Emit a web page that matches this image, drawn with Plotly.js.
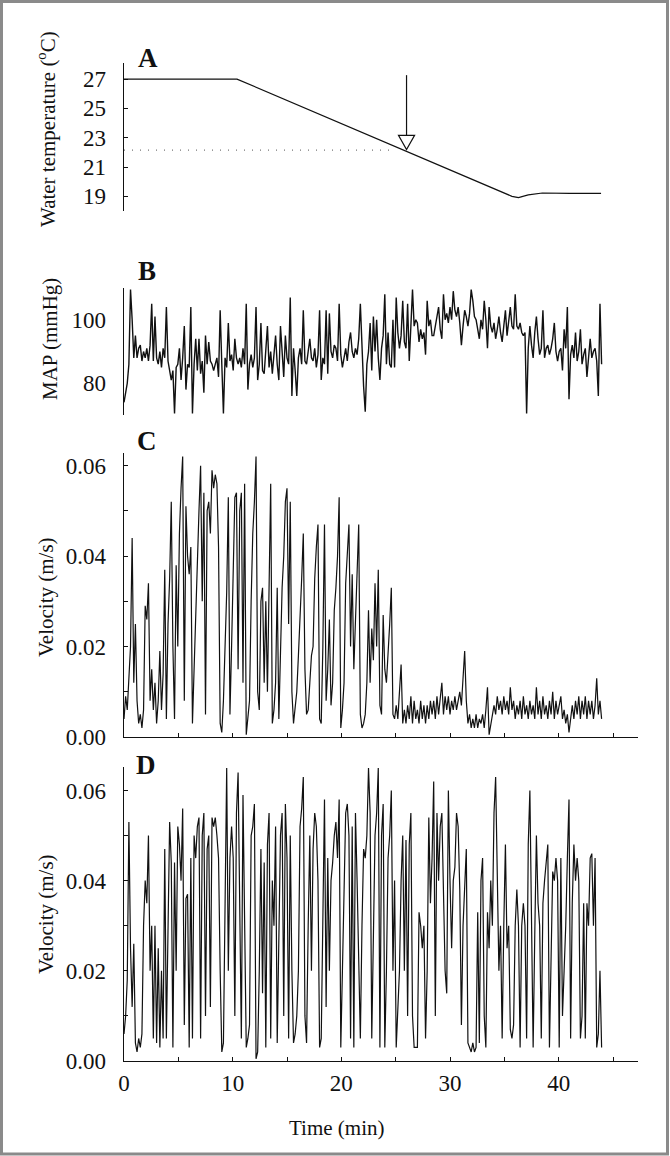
<!DOCTYPE html>
<html>
<head>
<meta charset="utf-8">
<script src="https://cdn.plot.ly/plotly-3.0.1.min.js"></script>
<style>
  html, body { margin: 0; padding: 0; background: #fff; }
  #chart { width: 670px; height: 1156px; }
</style>
</head>
<body>
<div id="chart"></div>
<script>
const sampleStep = 0.15;

// A: water temperature (deg C)
const tempTime = [0, 10.4, 35.7, 36.3, 37.2, 38.5, 41.0, 43.9];
const tempValue = [27, 27, 19.0, 18.92, 19.1, 19.23, 19.2, 19.2];
const refTemp = 22.15, refEndTime = 24.7;
const arrowTime = 26, arrowTip = 22.2, arrowTop = 27.27;

// B: mean arterial pressure (mmHg)
const mapValues = [
  74, 77, 80, 86, 109.5, 100, 88, 95, 88, 91,
  92, 87, 90, 88, 91, 87, 92, 105, 87, 101,
  88, 86, 90, 85, 91, 88, 104, 87, 84, 81,
  84, 70.5, 85, 86, 91, 81, 88, 98, 78, 86,
  85, 104, 70.5, 86, 94, 84, 94, 83, 87, 77,
  95, 86, 93, 87, 86, 84, 86, 88, 82, 103,
  86, 70.5, 88, 85, 99, 87, 89, 84, 94, 88,
  86, 88, 85, 91, 86, 105, 78, 86, 89, 85,
  88, 104, 81, 86, 99, 84, 83, 90, 98, 85,
  90, 83, 88, 95, 86, 81, 98, 89, 82, 95,
  88, 86, 107, 76, 91, 84, 76, 88, 91, 86,
  103, 87, 86, 90, 94, 88, 87, 91, 85, 89,
  103, 81, 88, 86, 103, 83, 102, 90, 88, 92,
  91, 87, 105, 89, 85, 88, 91, 87, 93, 96,
  90, 88, 91, 89, 94, 105, 90, 79, 71, 86,
  90, 99, 84, 101, 90, 100, 88, 81, 91, 95,
  108, 86, 96, 86, 85, 100, 85, 107, 96, 91,
  95, 106, 93, 91, 105, 87, 98, 109.5, 98, 100,
  99, 93, 97, 94, 96, 89, 106, 98, 100, 95,
  95, 98, 101, 104, 97, 94, 108, 100, 102, 99,
  104, 100, 109, 103, 101, 104, 99, 92, 98, 103,
  101, 98, 102, 109.5, 106, 101, 100, 97, 94, 100,
  97, 106, 100, 91, 104, 98, 96, 99, 94, 97,
  101, 96, 93, 98, 103, 95, 99, 104, 98, 97,
  108, 98, 97, 99, 96, 95, 96, 70.5, 91, 98,
  92, 88, 96, 101, 94, 89, 91, 103, 88, 91,
  92, 89, 91, 94, 99, 90, 87, 90, 91, 84,
  97, 91, 104, 75, 89, 92, 88, 96, 87, 90,
  97, 86, 89, 91, 82, 88, 94, 88, 90, 91,
  87, 76, 105, 86
];

// C: velocity (m/s)
const velocityC = [
  0.004, 0.009, 0.006, 0.012, 0.02, 0.044, 0.012, 0.025, 0.008, 0.003,
  0.005, 0.002, 0.006, 0.029, 0.026, 0.034, 0.008, 0.015, 0.006, 0.012,
  0.003, 0.008, 0.019, 0.006, 0.014, 0.037, 0.004, 0.025, 0.035, 0.052,
  0.02, 0.004, 0.038, 0.02, 0.045, 0.055, 0.062, 0.008, 0.051, 0.04,
  0.036, 0.042, 0.003, 0.015, 0.028, 0.038, 0.05, 0.06, 0.03, 0.054,
  0.005, 0.05, 0.052, 0.045, 0.059, 0.055, 0.058, 0.056, 0.042, 0.003,
  0.001, 0.008, 0.02, 0.032, 0.053, 0.005, 0.02, 0.035, 0.053, 0.054,
  0.015, 0.05, 0.054, 0.012, 0.056, 0.0005, 0.004, 0.008, 0.03, 0.045,
  0.052, 0.062, 0.01, 0.006, 0.03, 0.033, 0.012, 0.03, 0.01, 0.033,
  0.056, 0.003, 0.006, 0.012, 0.033, 0.004, 0.02, 0.033, 0.04, 0.052,
  0.055, 0.025, 0.052, 0.01, 0.003, 0.006, 0.01, 0.018, 0.025, 0.035,
  0.045, 0.015, 0.005, 0.006, 0.012, 0.018, 0.02, 0.035, 0.042, 0.047,
  0.004, 0.003, 0.02, 0.047, 0.008, 0.015, 0.026, 0.007, 0.012, 0.028,
  0.033, 0.04, 0.053, 0.002, 0.006, 0.012, 0.034, 0.04, 0.047, 0.02,
  0.036, 0.015, 0.025, 0.035, 0.047, 0.005, 0.002, 0.003, 0.005, 0.012,
  0.028, 0.012, 0.024, 0.017, 0.034, 0.02, 0.037, 0.007, 0.005, 0.027,
  0.015, 0.012, 0.018, 0.025, 0.033, 0.005, 0.004, 0.007, 0.004, 0.009,
  0.016, 0.003, 0.006, 0.003, 0.007, 0.004, 0.009, 0.003, 0.008, 0.004,
  0.006, 0.003, 0.008, 0.004, 0.007, 0.003, 0.007, 0.004, 0.008, 0.005,
  0.008, 0.004, 0.009, 0.005, 0.008, 0.012, 0.005, 0.009, 0.006, 0.009,
  0.005, 0.008, 0.006, 0.009, 0.006, 0.008, 0.01, 0.007, 0.012, 0.019,
  0.008, 0.003, 0.005, 0.002, 0.004, 0.002, 0.005, 0.002, 0.004, 0.003,
  0.005, 0.002, 0.006, 0.011, 0.0005, 0.003, 0.005, 0.007, 0.005, 0.009,
  0.006, 0.008, 0.005, 0.009, 0.006, 0.008, 0.005, 0.011, 0.006, 0.008,
  0.004, 0.007, 0.005, 0.008, 0.004, 0.009, 0.005, 0.007, 0.004, 0.008,
  0.005, 0.007, 0.004, 0.011, 0.005, 0.008, 0.004, 0.009, 0.005, 0.007,
  0.004, 0.008, 0.005, 0.01, 0.004, 0.008, 0.005, 0.007, 0.009, 0.004,
  0.006, 0.003, 0.005, 0.001, 0.004, 0.007, 0.004, 0.008, 0.005, 0.009,
  0.004, 0.008, 0.005, 0.009, 0.004, 0.008, 0.005, 0.008, 0.004, 0.007,
  0.013, 0.005, 0.008, 0.004
];

// D: velocity (m/s)
const velocityD = [
  0.006, 0.01, 0.018, 0.053, 0.025, 0.012, 0.026, 0.004, 0.002, 0.005,
  0.003, 0.006, 0.03, 0.04, 0.035, 0.05, 0.02, 0.03, 0.005, 0.03,
  0.004, 0.025, 0.003, 0.02, 0.005, 0.047, 0.005, 0.03, 0.053, 0.044,
  0.003, 0.044, 0.02, 0.052, 0.048, 0.04, 0.056, 0.008, 0.036, 0.037,
  0.003, 0.045, 0.005, 0.05, 0.045, 0.052, 0.054, 0.005, 0.05, 0.055,
  0.01, 0.047, 0.05, 0.012, 0.054, 0.052, 0.054, 0.05, 0.045, 0.02,
  0.002, 0.004, 0.03, 0.065, 0.02, 0.045, 0.052, 0.045, 0.01, 0.055,
  0.064, 0.04, 0.005, 0.059, 0.035, 0.003, 0.005, 0.008, 0.05, 0.052,
  0.057, 0.0005, 0.002, 0.02, 0.047, 0.015, 0.044, 0.003, 0.048, 0.055,
  0.005, 0.04, 0.03, 0.052, 0.004, 0.03, 0.05, 0.055, 0.01, 0.057,
  0.045, 0.005, 0.05, 0.02, 0.004, 0.006, 0.01, 0.02, 0.052, 0.056,
  0.063, 0.01, 0.004, 0.03, 0.05, 0.02, 0.047, 0.055, 0.052, 0.04,
  0.003, 0.005, 0.03, 0.058, 0.012, 0.045, 0.02, 0.04, 0.044, 0.05,
  0.053, 0.045, 0.058, 0.003, 0.02, 0.035, 0.055, 0.057, 0.05, 0.005,
  0.052, 0.003, 0.055, 0.04, 0.02, 0.005, 0.03, 0.047, 0.045, 0.05,
  0.065, 0.055, 0.005, 0.03, 0.05, 0.055, 0.065, 0.003, 0.05, 0.057,
  0.003, 0.02, 0.045, 0.05, 0.06, 0.02, 0.04, 0.003, 0.01, 0.02,
  0.04, 0.05, 0.02, 0.049, 0.01, 0.048, 0.055, 0.01, 0.003, 0.003,
  0.003, 0.033, 0.03, 0.025, 0.03, 0.005, 0.02, 0.054, 0.035, 0.045,
  0.062, 0.01, 0.055, 0.04, 0.052, 0.055, 0.04, 0.02, 0.015, 0.06,
  0.04, 0.025, 0.04, 0.043, 0.055, 0.052, 0.038, 0.008, 0.03, 0.04,
  0.047, 0.004, 0.003, 0.002, 0.004, 0.002, 0.003, 0.033, 0.004, 0.04,
  0.045, 0.01, 0.003, 0.033, 0.025, 0.04, 0.03, 0.055, 0.063, 0.04,
  0.02, 0.03, 0.005, 0.03, 0.048, 0.025, 0.03, 0.007, 0.005, 0.008,
  0.03, 0.038, 0.03, 0.003, 0.03, 0.035, 0.03, 0.005, 0.048, 0.06,
  0.03, 0.003, 0.028, 0.05, 0.035, 0.03, 0.005, 0.035, 0.04, 0.045,
  0.048, 0.003, 0.02, 0.042, 0.04, 0.045, 0.04, 0.003, 0.045, 0.01,
  0.02, 0.03, 0.045, 0.058, 0.005, 0.035, 0.048, 0.04, 0.045, 0.04,
  0.005, 0.01, 0.035, 0.005, 0.035, 0.03, 0.045, 0.046, 0.03, 0.045,
  0.003, 0.006, 0.02, 0.003
];

const timeOf = arr => arr.map((_, i) => +(i * sampleStep).toFixed(2));

// pixel -> paper helpers (plot area spans x 124..638, full height)
const W = 670, H = 1156, L = 124, R = 32;
const px = x => (x - L) / (W - L - R);
const py = y => 1 - y / H;

const serif = 'Liberation Serif, Times New Roman, serif';
const tickFont = { family: serif, size: 23, color: '#111' };
const lineStyle = { color: '#111', width: 1.2 };

const traces = [
  { x: tempTime, y: tempValue, xaxis: 'x', yaxis: 'y', type: 'scatter', mode: 'lines', line: lineStyle },
  { x: timeOf(mapValues), y: mapValues, xaxis: 'x2', yaxis: 'y2', type: 'scatter', mode: 'lines', line: { color: '#111', width: 1.4 } },
  { x: timeOf(velocityC), y: velocityC, xaxis: 'x3', yaxis: 'y3', type: 'scatter', mode: 'lines', line: lineStyle },
  { x: timeOf(velocityD), y: velocityD, xaxis: 'x4', yaxis: 'y4', type: 'scatter', mode: 'lines', line: lineStyle }
];

const xRange = [0, 47.3];
const hiddenX = anchor => ({ domain: [0, 1], range: xRange, visible: false, anchor: anchor });
const shownX = (anchor, labels) => ({
  domain: [0, 1], range: xRange, anchor: anchor,
  showline: true, linecolor: '#111', linewidth: 1.3, mirror: false,
  showgrid: false, zeroline: false,
  tickmode: 'array', tickvals: [0, 10, 20, 30, 40],
  ticks: 'inside', ticklen: 4, tickcolor: '#111',
  minor: { tickmode: 'linear', tick0: 0, dtick: 5, ticks: 'inside', ticklen: 4, tickcolor: '#111' },
  showticklabels: labels, tickfont: tickFont, ticklabelstandoff: 1
});
const yAxis = (top, bottom, range, vals, text, opts) => Object.assign({
  domain: [py(bottom), py(top)], range: range, anchor: opts.anchor,
  showline: true, linecolor: '#111', linewidth: 1.3,
  showgrid: false, zeroline: false,
  tickmode: 'array', tickvals: vals, ticktext: text,
  ticks: 'inside', ticklen: 4, tickcolor: '#111',
  tickfont: tickFont, ticklabelstandoff: 12
}, opts);

const velTicks = [0, 0.02, 0.04, 0.06];
const velText = ['0.00', '0.02', '0.04', '0.06'];
const velMinor = { tickmode: 'linear', tick0: 0, dtick: 0.01, ticks: 'inside', ticklen: 4, tickcolor: '#111' };

const yTitle = (text, x, y) => ({
  text: text, xref: 'paper', yref: 'paper', x: px(x), y: py(y),
  textangle: -90, showarrow: false, xanchor: 'center', yanchor: 'middle',
  font: { family: serif, size: 21, color: '#111' }
});
const panelLetter = (text, x, y) => ({
  text: '<b>' + text + '</b>', xref: 'paper', yref: 'paper', x: px(x), y: py(y),
  showarrow: false, xanchor: 'center', yanchor: 'middle',
  font: { family: serif, size: 27, color: '#111' }
});

const layout = {
  width: W, height: H,
  margin: { l: L, r: R, t: 0, b: 0 },
  paper_bgcolor: '#fff', plot_bgcolor: 'rgba(0,0,0,0)',
  showlegend: false,
  xaxis: hiddenX('y'),
  xaxis2: hiddenX('y2'),
  xaxis3: shownX('y3', false),
  xaxis4: shownX('y4', true),
  yaxis: yAxis(63, 211, [18, 28.1], [19, 21, 23, 25, 27], ['19', '21', '23', '25', '27'], { anchor: 'x' }),
  yaxis2: yAxis(288, 415, [70, 110], [80, 100], ['80', '100'], { anchor: 'x2', ticks: '' }),
  yaxis3: yAxis(453, 737, [0, 0.0628], velTicks, velText, { anchor: 'x3', minor: velMinor }),
  yaxis4: yAxis(767, 1061, [0, 0.0652], velTicks, velText, { anchor: 'x4', minor: velMinor }),
  annotations: [
    yTitle('Water temperature (<sup>o</sup>C)', 46, 129),
    yTitle('MAP (mmHg)', 50, 339),
    yTitle('Velocity (m/s)', 46, 597),
    yTitle('Velocity (m/s)', 46, 914),
    panelLetter('A', 148, 58),
    panelLetter('B', 147, 271),
    panelLetter('C', 147, 441),
    panelLetter('D', 146, 765),
    {
      text: 'Time (min)', xref: 'paper', yref: 'paper', x: px(336), y: py(1128),
      showarrow: false, xanchor: 'center', yanchor: 'middle',
      font: { family: serif, size: 21, color: '#111' }
    }
  ],
  shapes: [
    // dotted reference level and open arrow in panel A
    { type: 'line', xref: 'x', yref: 'y', x0: 0, x1: refEndTime, y0: refTemp, y1: refTemp,
      line: { color: '#777', width: 1.2, dash: '1px,7px' } },
    { type: 'line', xref: 'x', yref: 'y', x0: arrowTime, x1: arrowTime, y0: arrowTop, y1: arrowTip + 0.96,
      line: { color: '#111', width: 1.2 } },
    { type: 'path', xref: 'x', yref: 'y',
      path: `M ${arrowTime - 0.74},${arrowTip + 0.96} L ${arrowTime + 0.74},${arrowTip + 0.96} L ${arrowTime},${arrowTip} Z`,
      fillcolor: '#fff', line: { color: '#111', width: 1.2 } },
    // grey frame round the figure
    { type: 'rect', xref: 'paper', yref: 'paper', x0: px(1.5), x1: px(667.5), y0: py(1154), y1: py(1.5),
      line: { color: '#8a8a8a', width: 3 }, fillcolor: 'rgba(0,0,0,0)' }
  ]
};

Plotly.newPlot('chart', traces, layout, { displayModeBar: false, staticPlot: true });
</script>
</body>
</html>
